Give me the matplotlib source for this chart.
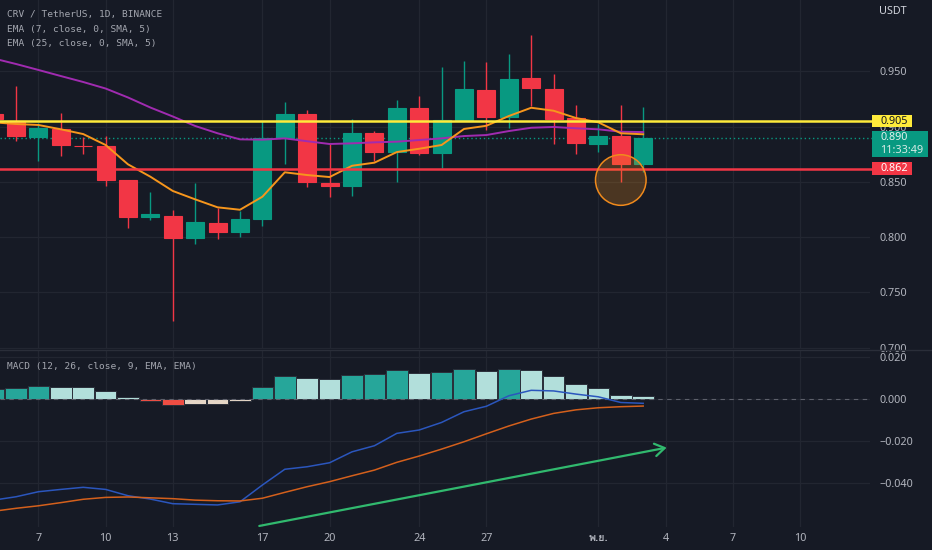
import matplotlib

matplotlib.use("Agg")

import matplotlib.pyplot as plt
import numpy as np
import pandas as pd
from matplotlib import font_manager
from matplotlib.ft2font import FT2Font
from matplotlib.patches import Ellipse, Rectangle
from matplotlib.transforms import blended_transform_factory

# ---- data ----
dates = pd.date_range("2022-10-05", "2022-11-03", freq="D")
opens = [0.9113, 0.9053, 0.8908, 0.8978, 0.8822, 0.8824, 0.8516, 0.8184, 0.8193, 0.7994,
         0.8124, 0.8045, 0.8163, 0.8893, 0.9116, 0.8489, 0.8464, 0.8939, 0.8767, 0.9165,
         0.8758, 0.9056, 0.9328, 0.9086, 0.9436, 0.9337, 0.9074, 0.8839, 0.8914, 0.8658]
highs = [0.9150, 0.9367, 0.9035, 0.9120, 0.8902, 0.8914, 0.8516, 0.8407, 0.8245, 0.8486,
         0.8265, 0.8236, 0.9050, 0.9225, 0.9150, 0.8848, 0.9065, 0.8960, 0.9237, 0.9276,
         0.9539, 0.9596, 0.9587, 0.9659, 0.9828, 0.9475, 0.9195, 0.9020, 0.9195, 0.9177]
lows = [0.9040, 0.8872, 0.8688, 0.8736, 0.8749, 0.8465, 0.8084, 0.8157, 0.7240, 0.7940,
        0.7979, 0.7998, 0.8100, 0.8661, 0.8455, 0.8360, 0.8371, 0.8688, 0.8495, 0.8742,
        0.8622, 0.9056, 0.8969, 0.8989, 0.9186, 0.8839, 0.8749, 0.8767, 0.8495, 0.8591]
closes = [0.9065, 0.8917, 0.8989, 0.8836, 0.8820, 0.8516, 0.8184, 0.8206, 0.7994, 0.8133,
          0.8045, 0.8163, 0.8896, 0.9116, 0.8495, 0.8464, 0.8939, 0.8767, 0.9165, 0.8758,
          0.9056, 0.9337, 0.9086, 0.9427, 0.9346, 0.9068, 0.8848, 0.8914, 0.8658, 0.8900]
ema7 = [0.9038, 0.9023, 0.9014, 0.8975, 0.8932, 0.8833, 0.8658, 0.8546, 0.8417, 0.8341,
        0.8269, 0.8247, 0.8365, 0.8586, 0.8561, 0.8543, 0.8645, 0.8673, 0.8769, 0.8799,
        0.8833, 0.8978, 0.9007, 0.9095, 0.9170, 0.9143, 0.9077, 0.9038, 0.8939, 0.8930]
ema25 = [0.9616, 0.9566, 0.9512, 0.9457, 0.9403, 0.9344, 0.9263, 0.9172, 0.9091, 0.9005,
         0.8939, 0.8884, 0.8881, 0.8893, 0.8867, 0.8842, 0.8848, 0.8857, 0.8863, 0.8878,
         0.8893, 0.8914, 0.8923, 0.8959, 0.8989, 0.8996, 0.8984, 0.8975, 0.8953, 0.8950]
macd = [-0.0480, -0.0464, -0.0440, -0.0429, -0.0419, -0.0429, -0.0459, -0.0475, -0.0497, -0.0500,
        -0.0503, -0.0488, -0.0408, -0.0333, -0.0321, -0.0302, -0.0250, -0.0221, -0.0162, -0.0146,
        -0.0110, -0.0059, -0.0033, 0.0017, 0.0043, 0.0040, 0.0025, 0.0012, -0.0015, -0.0019]
signal = [-0.0533, -0.0519, -0.0507, -0.0492, -0.0476, -0.0467, -0.0465, -0.0469, -0.0473, -0.0480,
          -0.0483, -0.0484, -0.0471, -0.0443, -0.0416, -0.0392, -0.0364, -0.0337, -0.0300, -0.0270,
          -0.0237, -0.0202, -0.0164, -0.0127, -0.0094, -0.0067, -0.0050, -0.0040, -0.0035, -0.0032]
hist = [0.0051, 0.0055, 0.0062, 0.0060, 0.0059, 0.0038, 0.0010, -0.0008, -0.0027, -0.0024,
        -0.0022, -0.0008, 0.0057, 0.0110, 0.0101, 0.0095, 0.0116, 0.0119, 0.0141, 0.0124,
        0.0130, 0.0146, 0.0133, 0.0144, 0.0138, 0.0110, 0.0073, 0.0052, 0.0021, 0.0014]

tick_dates = ["2022-10-07", "2022-10-10", "2022-10-13", "2022-10-17", "2022-10-20", "2022-10-24",
              "2022-10-27", "2022-11-01", "2022-11-04", "2022-11-07", "2022-11-10"]
tick_labels = ["7", "10", "13", "17", "20", "24", "27", "พ.ย.", "4", "7", "10"]
price_ticks = [0.700, 0.750, 0.800, 0.850, 0.900, 0.950]
macd_ticks = [0.020, 0.000, -0.020, -0.040]
macd_tick_labels = ["0.020", "0.000", "\u22120.020", "\u22120.040"]

resistance = 0.905
support = 0.862
countdown = "11:33:49"
highlight_date, highlight_price = "2022-11-02", 0.8516
trend_start = ("2022-10-16 20:40", -0.0603)
trend_end = ("2022-11-04 01:10", -0.0230)

# ---- style ----
BG = "#161a25"
GRID = "#222631"
TEXT = "#b2b5be"
UP, DOWN = "#089981", "#f23645"
HIST_COLORS = {"up_rise": "#26a69a", "up_fall": "#b2dfdb", "dn_rise": "#e5d6c6", "dn_fall": "#ef4d43"}


def _thai_family():
    for entry in font_manager.fontManager.ttflist:
        try:
            if 0x0E1E in FT2Font(entry.fname).get_charmap():
                return entry.name
        except Exception:
            continue
    return "DejaVu Sans"


plt.rcParams["font.family"] = ["Noto Sans", "DejaVu Sans"]

x = np.array([(d - dates[0]).days for d in dates], dtype=float)
tick_x = [(pd.Timestamp(d) - dates[0]).days for d in tick_dates]
o, h, l, c = map(np.asarray, (opens, highs, lows, closes))

fig = plt.figure(figsize=(9.32, 5.5), dpi=100, facecolor=BG)
W, H = 932, 550
ax_p = fig.add_axes([0, 1 - 349 / H, 870 / W, 349 / H], facecolor=BG)
ax_m = fig.add_axes([0, 1 - 527 / H, 870 / W, 177 / H], facecolor=BG, sharex=ax_p)

for ax in (ax_p, ax_m):
    for s in ax.spines.values():
        s.set_visible(False)
    ax.yaxis.tick_right()
    ax.tick_params(length=0, colors=TEXT, labelsize=7.8)
    ax.set_xticks(tick_x)
    ax.grid(True, color=GRID, linewidth=0.9)
    ax.set_axisbelow(True)

ax_p.set_xlim(0.286, 39.125)
ax_p.set_ylim(0.6987, 1.0145)
ax_m.set_ylim(-0.0608, 0.0235)
ax_p.tick_params(axis="x", labelbottom=False)
ax_p.tick_params(axis="y", pad=6.5)
ax_m.tick_params(axis="y", pad=6.5)
ax_m.tick_params(axis="x", pad=4.5)

ax_p.set_yticks(price_ticks)
ax_p.set_yticklabels([f"{t:.3f}" for t in price_ticks])
ax_m.set_yticks(macd_ticks)
ax_m.set_yticklabels(macd_tick_labels)
ax_m.set_xticklabels(tick_labels)
thai = _thai_family()
for lab in ax_m.get_xticklabels():
    if lab.get_text() == "พ.ย.":
        lab.set_fontfamily([thai, "DejaVu Sans"])
        lab.set_fontweight("bold")

# ---- candles ----
colors = np.where(c >= o, UP, DOWN)
ax_p.vlines(x, l, h, colors=colors, linewidth=1.0, zorder=3)
ax_p.bar(x, np.abs(c - o), bottom=np.minimum(o, c), width=0.8, color=colors,
         edgecolor=colors, linewidth=0.8, zorder=4)

ax_p.plot(x, ema25, color="#a02bb0", linewidth=1.4, zorder=5)
ax_p.plot(x, ema7, color="#f7961c", linewidth=1.4, zorder=5)

ax_p.axhline(resistance, xmin=0, xmax=1.003, color="#ffeb3b", linewidth=1.8, zorder=6, clip_on=False)
ax_p.axhline(support, xmin=0, xmax=1.003, color="#f23645", linewidth=1.8, zorder=6, clip_on=False)
ax_p.axhline(c[-1], xmin=0, xmax=1.003, color=UP, linewidth=1.0, linestyle=(0, (1, 2)),
             zorder=2, clip_on=False)

hx = (pd.Timestamp(highlight_date) - dates[0]).days
ppx = (ax_p.get_ylim()[1] - ax_p.get_ylim()[0]) / ax_p.bbox.height
dpx = (ax_p.get_xlim()[1] - ax_p.get_xlim()[0]) / ax_p.bbox.width
ax_p.add_patch(Ellipse((hx, highlight_price), 50.6 * dpx, 50.6 * ppx, facecolor="#f7931a",
                       alpha=0.24, edgecolor="none", zorder=7))
ax_p.add_patch(Ellipse((hx, highlight_price), 50.6 * dpx, 50.6 * ppx, facecolor="none",
                       edgecolor="#f08a1c", linewidth=1.1, zorder=7))

# ---- price tags on the scale ----
tr = blended_transform_factory(ax_p.transAxes, ax_p.transData)
wpx = 1 / ax_p.bbox.width


def price_tag(price, face, txt_color, label, width_px=40, top_px=6.2, bottom_px=6.2):
    ax_p.add_patch(Rectangle((1 + 2 * wpx, price - bottom_px * ppx), width_px * wpx,
                             (top_px + bottom_px) * ppx, transform=tr, facecolor=face,
                             edgecolor="none", clip_on=False, zorder=10))
    ax_p.text(1 + 10 * wpx, price, label, transform=tr, color=txt_color, fontsize=7.8,
              va="center", ha="left", clip_on=False, zorder=11)


price_tag(resistance, "#ffeb3b", "#131722", f"{resistance:.3f}")
price_tag(c[-1], UP, "#e6f2ef", f"{c[-1]:.3f}", width_px=56, top_px=7, bottom_px=19)
ax_p.text(1 + 10 * wpx, c[-1] - 12.8 * ppx, countdown, transform=tr, color="#d6ebe6",
          fontsize=7.8, va="center", ha="left", clip_on=False, zorder=11)
price_tag(support, "#f23645", "#ffffff", f"{support:.3f}")

# ---- MACD pane ----
hist_arr = np.asarray(hist)
prev = np.concatenate([[hist_arr[0] - 1e-4], hist_arr[:-1]])
hcols = []
for v, p in zip(hist_arr, prev):
    if v >= 0:
        hcols.append(HIST_COLORS["up_rise"] if v >= p else HIST_COLORS["up_fall"])
    else:
        hcols.append(HIST_COLORS["dn_rise"] if v >= p else HIST_COLORS["dn_fall"])
ax_m.bar(x, hist_arr, width=0.96, color=hcols, edgecolor="#2b2f3a", linewidth=0.7, zorder=3)
ax_m.axhline(0, color="#5d606b", linewidth=0.8, linestyle=(0, (4, 4)), zorder=4)
ax_m.plot(x, macd, color="#2b56bd", linewidth=1.1, zorder=5)
ax_m.plot(x, signal, color="#d4601c", linewidth=1.1, zorder=5)

t0 = ((pd.Timestamp(trend_start[0]) - dates[0]) / pd.Timedelta(days=1), trend_start[1])
t1 = ((pd.Timestamp(trend_end[0]) - dates[0]) / pd.Timedelta(days=1), trend_end[1])
ax_m.annotate("", xy=t1, xytext=t0, annotation_clip=False,
              arrowprops=dict(arrowstyle="->,head_length=0.7,head_width=0.45", color="#31b96e",
                              linewidth=1.6, shrinkA=0, shrinkB=0), zorder=6)

# pane separator
fig.add_artist(plt.Line2D([0, 1], [1 - 350 / H, 1 - 350 / H], color="#2a2e39", linewidth=1.0))

# ---- legends ----
mono = {"family": "DejaVu Sans Mono", "size": 6.8, "color": "#a3a6af"}
fig.text(7 / W, 1 - 15 / H, "CRV / TetherUS, 1D, BINANCE", va="center", **mono)
fig.text(7 / W, 1 - 29.7 / H, "EMA (7, close, 0, SMA, 5)", va="center", **mono)
fig.text(7 / W, 1 - 43.7 / H, "EMA (25, close, 0, SMA, 5)", va="center", **mono)
fig.text(7 / W, 1 - 367 / H, "MACD (12, 26, close, 9, EMA, EMA)", va="center", **mono)
fig.text(879 / W, 1 - 11 / H, "USDT", va="center", ha="left", color="#d1d4dc", fontsize=7.8)

fig.savefig("out.png", dpi=100, facecolor=BG)
